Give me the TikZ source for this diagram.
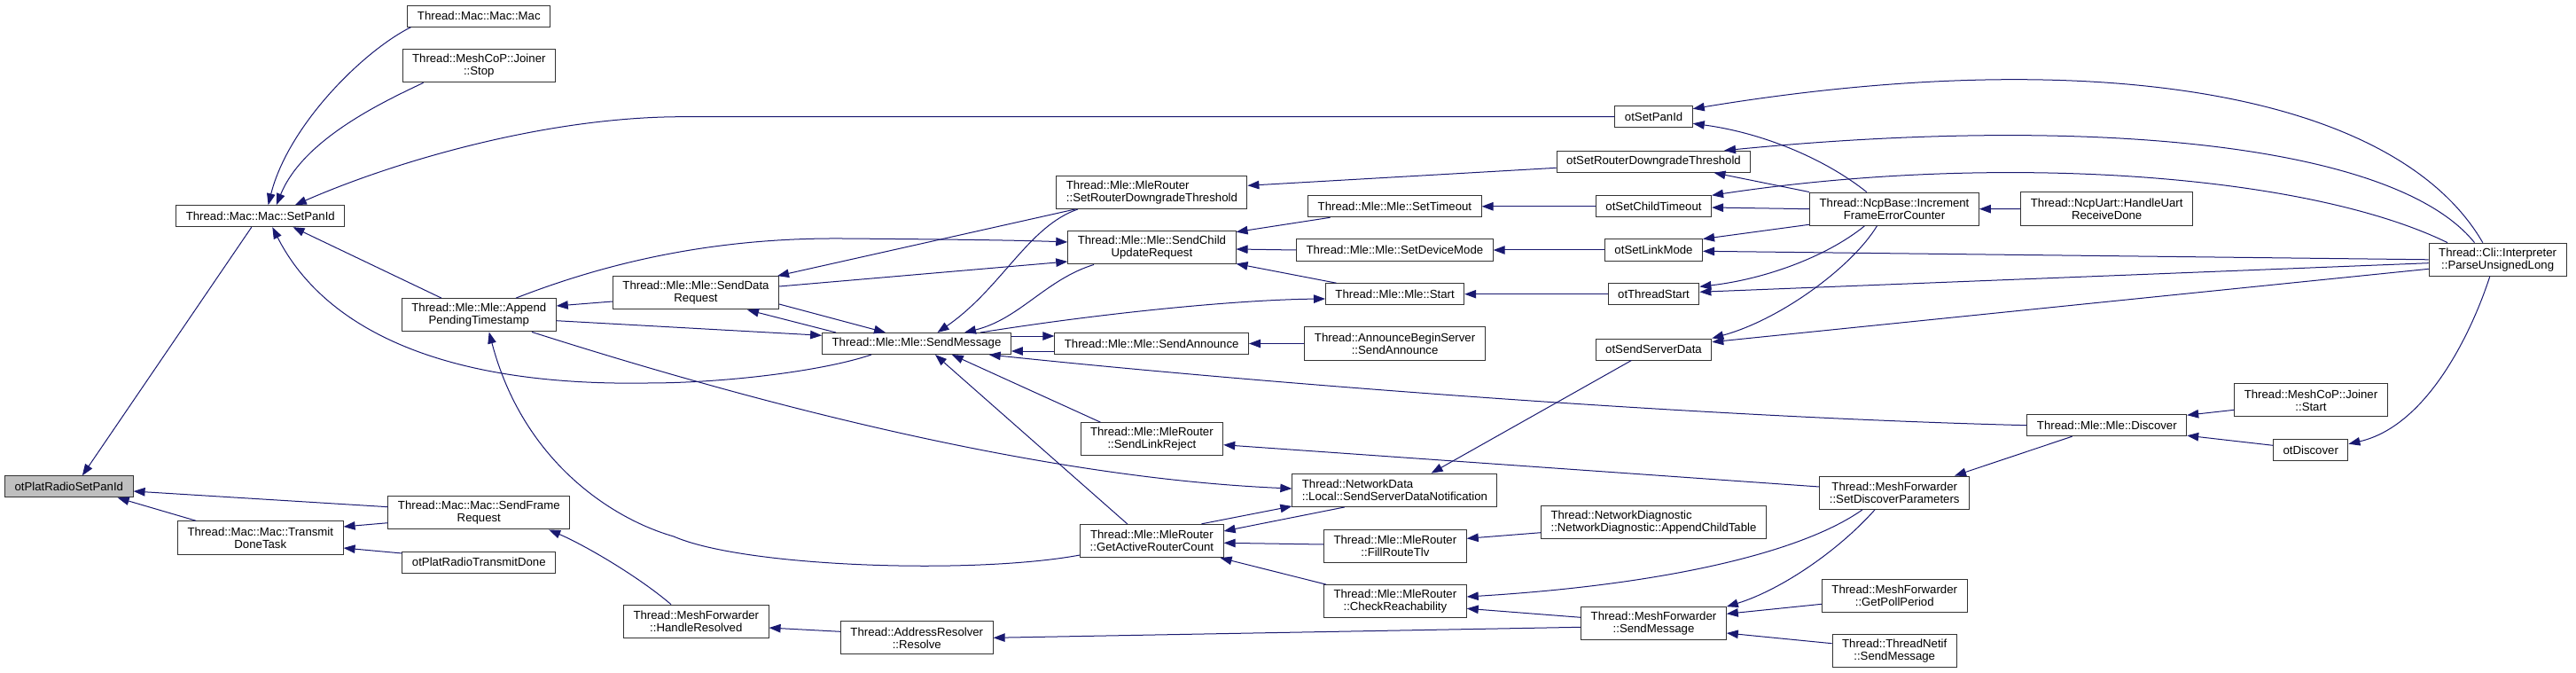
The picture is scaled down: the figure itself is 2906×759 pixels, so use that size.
\documentclass[tikz,border=0pt]{standalone}
\usepackage{fontspec}
\setmainfont{Liberation Sans}
\usepackage{tikz}
\usetikzlibrary{positioning}
\usetikzlibrary{arrows.meta}
\usepackage{xcolor}
\definecolor{edgeblue}{HTML}{191970}
\definecolor{hilite}{HTML}{BFBFBF}

\begin{document}
\begin{tikzpicture}[x=1pt, y=-1pt,
    fn/.style={draw=black!80, line width=1pt, fill=white, font=\fontsize{13.2}{14}\selectfont,
      inner xsep=11pt, inner ysep=3pt, minimum height=24pt, align=center},
    fn2/.style={fn, minimum height=37.3pt},
    edge/.style={draw=edgeblue, line width=1pt, -{Triangle[length=13pt,width=9.5pt]}}]
    \useasboundingbox (0,0) rectangle (2906,759);

    % Column 0: the function itself
    \node[fn, fill=hilite] (plat) at (77.8,548.9) {otPlatRadioSetPanId};

    % Column 1
    \node[fn] (setpan) at (293.8,243.7) {Thread::Mac::Mac::SetPanId};
    \node[fn2] (tdt) at (293.8,606.4) {Thread::Mac::Mac::Transmit\\DoneTask};

    % Column 2
    \node[fn] (mac) at (540.3,18.2) {Thread::Mac::Mac::Mac};
    \node[fn2] (jstop) at (540.3,74.2) {Thread::MeshCoP::Joiner\\::Stop};
    \node[fn2] (apt) at (540.3,355.3) {Thread::Mle::Mle::Append\\PendingTimestamp};
    \node[fn2] (sfr) at (540.3,578.3) {Thread::Mac::Mac::SendFrame\\Request};
    \node[fn] (prtd) at (540.3,634.2) {otPlatRadioTransmitDone};

    % Column 3
    \node[fn2] (sdr) at (785,330.3) {Thread::Mle::Mle::SendData\\Request};
    \node[fn2] (hres) at (785.3,700.8) {Thread::MeshForwarder\\::HandleResolved};

    % Column 4
    \node[fn] (smsg) at (1034,387.5) {Thread::Mle::Mle::SendMessage};
    \node[fn2] (resolve) at (1034.3,719.3) {Thread::AddressResolver\\::Resolve};

    % Column 5
    \node[fn2, align=left] (srdt) at (1299.4,216.8) {Thread::Mle::MleRouter\\::SetRouterDowngradeThreshold};
    \node[fn2] (scur) at (1299.4,279.3) {Thread::Mle::Mle::SendChild\\UpdateRequest};
    \node[fn] (sann) at (1299.2,387.5) {Thread::Mle::Mle::SendAnnounce};
    \node[fn2] (slr) at (1299.4,495.3) {Thread::Mle::MleRouter\\::SendLinkReject};
    \node[fn2] (garc) at (1299.4,610) {Thread::Mle::MleRouter\\::GetActiveRouterCount};

    % Column 6
    \node[fn] (settime) at (1573.4,232.8) {Thread::Mle::Mle::SetTimeout};
    \node[fn] (setdev) at (1573.4,282) {Thread::Mle::Mle::SetDeviceMode};
    \node[fn] (mstart) at (1573.6,331.7) {Thread::Mle::Mle::Start};
    \node[fn2] (absa) at (1573.6,387.5) {Thread::AnnounceBeginServer\\::SendAnnounce};
    \node[fn2, align=left] (ssdn) at (1573.4,552.8) {Thread::NetworkData\\::Local::SendServerDataNotification};
    \node[fn2] (frt) at (1573.9,615.7) {Thread::Mle::MleRouter\\::FillRouteTlv};
    \node[fn2] (creach) at (1573.9,678.3) {Thread::Mle::MleRouter\\::CheckReachability};

    % Column 7
    \node[fn] (otpan) at (1865.6,131.7) {otSetPanId};
    \node[fn] (otsrdt) at (1865.5,182.3) {otSetRouterDowngradeThreshold};
    \node[fn] (otsct) at (1865.5,232.8) {otSetChildTimeout};
    \node[fn] (otslm) at (1865.5,282) {otSetLinkMode};
    \node[fn] (otts) at (1865.5,331.7) {otThreadStart};
    \node[fn] (otssd) at (1865.5,394) {otSendServerData};
    \node[fn2, align=left] (actable) at (1865.5,588.8) {Thread::NetworkDiagnostic\\::NetworkDiagnostic::AppendChildTable};
    \node[fn2] (mfsm) at (1865.5,703.3) {Thread::MeshForwarder\\::SendMessage};

    % Column 8
    \node[fn2] (ncp) at (2137,235.7) {Thread::NcpBase::Increment\\FrameErrorCounter};
    \node[fn2] (sdp) at (2137.2,555.7) {Thread::MeshForwarder\\::SetDiscoverParameters};
    \node[fn2] (gpp) at (2137.2,671.7) {Thread::MeshForwarder\\::GetPollPeriod};
    \node[fn2] (tnsm) at (2137.2,734) {Thread::ThreadNetif\\::SendMessage};

    % Columns 9 to 11
    \node[fn2] (hurd) at (2376.7,235.5) {Thread::NcpUart::HandleUart\\ReceiveDone};
    \node[fn] (discover) at (2376.8,479.7) {Thread::Mle::Mle::Discover};
    \node[fn2] (jstart) at (2607,451.3) {Thread::MeshCoP::Joiner\\::Start};
    \node[fn] (otdisc) at (2606.7,507.7) {otDiscover};
    \node[fn2] (pul) at (2817.6,292.8) {Thread::Cli::Interpreter\\::ParseUnsignedLong};

    % Into otPlatRadioSetPanId
    \draw[edge] ([xshift=-10pt]setpan.south) -- ([xshift=15pt]plat.north);
    \draw[edge] ([yshift=6.6pt]sfr.west) -- ([yshift=-5.1pt]plat.east);
    \draw[edge] ([xshift=-72.8pt]tdt.north) -- ([xshift=54.9pt]plat.south);

    % Into SetPanId
    \draw[edge] ([xshift=4pt]mac.south west) .. controls (409,58) and (325,142) .. ([xshift=8.8pt]setpan.north);
    \draw[edge] ([xshift=24pt]jstop.south west) .. controls (432,115) and (342,157) .. ([xshift=18pt]setpan.north);
    \draw[edge] (otpan.west) -- (770,131.7) .. controls (620,131.7) and (450,180) .. ([xshift=39pt]setpan.north);
    \draw[edge] ([xshift=-42.3pt]apt.north) -- ([xshift=36.7pt]setpan.south);
    \draw[edge] ([xshift=-51pt]smsg.south) .. controls (930,418) and (820,432) .. (730,432)
        .. controls (480,436) and (360,360) .. ([xshift=13.5pt]setpan.south);

    % Into TransmitDoneTask and SendFrameRequest
    \draw[edge] ([yshift=-11.4pt]sfr.west) -- ([yshift=12.4pt]tdt.east);
    \draw[edge] ([yshift=10.2pt]prtd.west) -- ([yshift=-11.6pt]tdt.east);
    \draw[edge] ([xshift=-28.3pt]hres.north) .. controls (720,650) and (660,615) .. ([xshift=78.9pt]sfr.south);
    \draw[edge] ([yshift=7pt]resolve.west) -- ([yshift=-7.2pt]hres.east);
    \draw[edge] ([yshift=-4pt]mfsm.west) -- (resolve.east);

    % AppendPendingTimestamp
    \draw[edge] ([yshift=-9.7pt]sdr.west) -- ([yshift=10.3pt]apt.east);
    \draw[edge] ([yshift=-16pt]garc.west) .. controls (1100,648) and (840,640) .. (760,605)
        .. controls (690,585) and (590,520) .. ([xshift=11.4pt]apt.south);
    \draw[edge] ([yshift=-6.4pt]apt.east) -- ([yshift=9.2pt]smsg.west);
    \draw[edge] ([xshift=41.7pt]apt.north) .. controls (680,298) and (800,268) .. (950,269)
        .. controls (1080,270) and (1150,271) .. ([yshift=6.3pt]scur.west);
    \draw[edge] ([xshift=59.7pt]apt.south) .. controls (900,470) and (1200,540) .. ([yshift=1.8pt]ssdn.west);

    % SendDataRequest
    \draw[edge] ([xshift=-86.4pt]srdt.south) -- ([xshift=-2pt]sdr.north east);
    \draw[edge] ([yshift=7.3pt]sdr.east) -- ([yshift=-15.7pt]scur.west);
    \draw[edge] ([yshift=-12.7pt]sdr.east) -- ([xshift=-35pt]smsg.north);
    \draw[edge] ([xshift=-91pt]smsg.north) -- ([xshift=58pt]sdr.south);

    % SendMessage
    \draw[edge] ([xshift=-83.4pt]srdt.south) .. controls (1160,255) and (1130,325) .. ([xshift=23.5pt]smsg.north);
    \draw[edge] ([xshift=-65.4pt]scur.south) .. controls (1180,315) and (1150,360) .. ([xshift=54pt]smsg.north);
    \draw[edge] ([yshift=-8.5pt]sann.west) -- ([yshift=-8.5pt]smsg.east);
    \draw[edge] ([yshift=8.5pt]smsg.east) -- ([yshift=8.5pt]sann.west);
    \draw[edge] ([xshift=72pt]smsg.north) .. controls (1250,352) and (1400,338) .. ([yshift=-5.3pt]mstart.west);
    \draw[edge] (discover.west) .. controls (1900,470) and (1400,430) .. ([xshift=81.7pt]smsg.south);
    \draw[edge] ([xshift=-58pt]slr.north) -- ([xshift=39.8pt]smsg.south);
    \draw[edge] ([xshift=-27.7pt]garc.north) -- ([xshift=21pt]smsg.south);

    % SendChildUpdateRequest and SendAnnounce
    \draw[edge] ([xshift=-72.9pt]settime.south) -- ([yshift=-1.5pt]scur.north east);
    \draw[edge] (setdev.west) -- ([yshift=-1.7pt]scur.east);
    \draw[edge] ([xshift=-66.1pt]mstart.north) -- ([yshift=1pt]scur.south east);
    \draw[edge] (absa.west) -- (sann.east);

    % SendLinkReject and GetActiveRouterCount
    \draw[edge] ([yshift=6.7pt]sdp.west) -- ([yshift=-6.4pt]slr.east);
    \draw[edge] ([xshift=56pt]garc.north) -- ([yshift=1pt]ssdn.south west);
    \draw[edge] ([xshift=-56.6pt]ssdn.south) -- ([yshift=11pt]garc.east);
    \draw[edge] ([yshift=1.7pt]frt.west) -- ([yshift=-2.3pt]garc.east);
    \draw[edge] ([xshift=3pt]creach.north west) -- ([xshift=-4pt]garc.south east);

    % FillRouteTlv and CheckReachability
    \draw[edge] ([yshift=-11.9pt]actable.west) -- ([yshift=8.4pt]frt.east);
    \draw[edge] ([xshift=-36.2pt]sdp.south) .. controls (2030,625) and (1870,660) .. ([yshift=5.3pt]creach.east);
    \draw[edge] ([yshift=7pt]mfsm.west) -- ([yshift=-8pt]creach.east);

    % MeshForwarder::SendMessage
    \draw[edge] ([xshift=-22.2pt]sdp.south) .. controls (2075,620) and (2010,665) .. (mfsm.north east);
    \draw[edge] ([yshift=-9.6pt]gpp.west) -- ([yshift=11pt]mfsm.east);
    \draw[edge] ([yshift=8.3pt]tnsm.west) -- ([yshift=-10.7pt]mfsm.east);

    % Discover
    \draw[edge] ([xshift=-39.2pt]discover.south) -- ([xshift=67.8pt]sdp.north);
    \draw[edge] ([yshift=-11pt]jstart.west) -- ([yshift=-1pt]discover.north east);
    \draw[edge] ([yshift=5.4pt]otdisc.west) -- ([yshift=1pt]discover.south east);
    \draw[edge] ([xshift=-8.9pt]pul.south) .. controls (2790,370) and (2740,480) .. ([yshift=7pt]otdisc.east);

    % ot* API functions
    \draw[edge] ([xshift=-25.1pt]otssd.south) -- ([xshift=41.2pt]ssdn.north);
    \draw[edge] ([xshift=-19.6pt]ncp.south) .. controls (2090,300) and (2010,360) .. (otssd.north east);
    \draw[edge] ([yshift=-10.5pt]pul.west) -- ([yshift=8.3pt]otssd.east);
    \draw[edge] (otts.west) -- (mstart.east);
    \draw[edge] ([xshift=-33.6pt]ncp.south) .. controls (2060,290) and (1990,315) .. ([yshift=8.4pt]otts.east);
    \draw[edge] ([yshift=-3.9pt]pul.west) -- ([yshift=2.4pt]otts.east);
    \draw[edge] (otslm.west) -- (setdev.east);
    \draw[edge] ([yshift=1.6pt]ncp.south west) -- (otslm.north east);
    \draw[edge] (pul.west) -- ([yshift=-1.3pt]otslm.east);
    \draw[edge] (otsct.west) -- (settime.east);
    \draw[edge] (ncp.west) -- ([yshift=-1.2pt]otsct.east);
    \draw[edge] ([xshift=-56.6pt]pul.north) .. controls (2600,195) and (2250,172) .. (otsct.north east);
    \draw[edge] ([yshift=-7pt]otsrdt.west) -- ([yshift=7.5pt]srdt.east);
    \draw[edge] (ncp.north west) -- ([xshift=68pt]otsrdt.south);
    \draw[edge] ([xshift=-26.1pt]pul.north) .. controls (2700,160) and (2350,130) .. ([xshift=79.5pt]otsrdt.north);
    \draw[edge] ([xshift=-31.3pt]ncp.north) .. controls (2060,180) and (1990,150) .. ([yshift=-7.6pt]otpan.east);
    \draw[edge] ([xshift=-16.8pt]pul.north) .. controls (2700,100) and (2350,50) .. ([yshift=9pt]otpan.east);
    \draw[edge] (hurd.west) -- (ncp.east);
\end{tikzpicture}
\end{document}
